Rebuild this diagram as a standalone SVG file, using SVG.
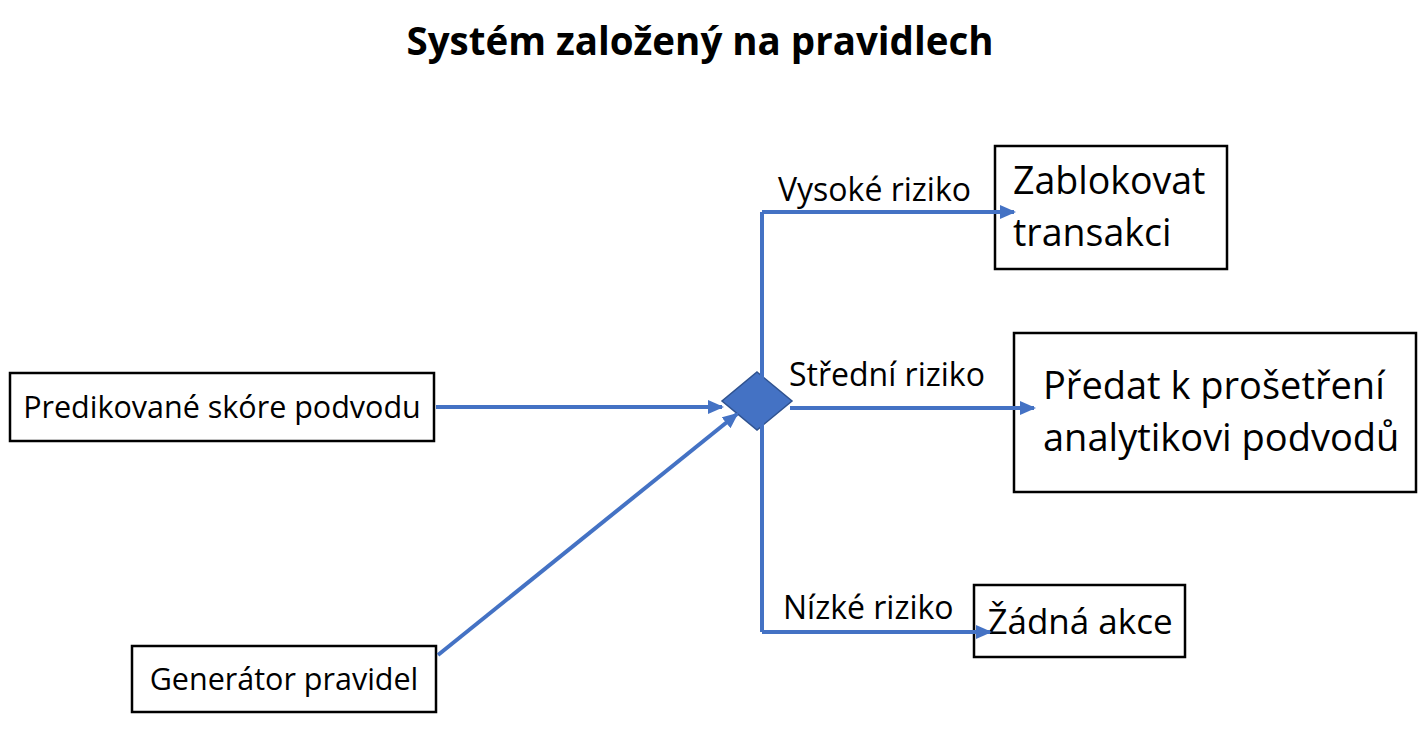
<svg xmlns="http://www.w3.org/2000/svg" width="1428" height="736" viewBox="0 0 1428 736">
<style>
.box{fill:#fff;stroke:#000;stroke-width:2.5}
.t{font-family:"Open Sans","Liberation Sans",sans-serif;fill:#000}
.c{stroke:#4472C4;stroke-width:4;fill:none}
</style>
<defs><marker id="b" markerWidth="16" markerHeight="14" refX="14" refY="7" orient="auto" markerUnits="userSpaceOnUse"><path d="M0,0L16,7L0,14z" fill="#4472C4"/></marker></defs>
<rect width="1428" height="736" fill="#fff"/>
<text class="t" x="700" y="55" text-anchor="middle" font-size="38.5" font-weight="bold">Systém založený na pravidlech</text>
<g id="n1"><rect class="box" x="10" y="373" width="424" height="68"/><text class="t" x="222" y="418" font-size="30.5" text-anchor="middle">Predikované skóre podvodu</text></g>
<g id="n2"><rect class="box" x="132" y="646" width="304" height="66"/><text class="t" x="284" y="690" font-size="30.5" text-anchor="middle">Generátor pravidel</text></g>
<g id="n3"><rect class="box" x="995" y="146" width="232" height="123"/><text class="t" x="1013" y="194" font-size="37.5">Zablokovat</text><text class="t" x="1013" y="246" font-size="37.5">transakci</text></g>
<g id="n4"><rect class="box" x="1014" y="333" width="402" height="159"/><text class="t" x="1043" y="399" font-size="38">Předat k prošetření</text><text class="t" x="1043" y="451" font-size="38">analytikovi podvodů</text></g>
<g id="n5"><rect class="box" x="974" y="585" width="211" height="72"/><text class="t" x="1080" y="634" font-size="35" text-anchor="middle">Žádná akce</text></g>
<g id="diamond"><path d="M757,372L792,401L757,430L722,401z" fill="#4472C4" stroke="#2F528F" stroke-width="1.5"/></g>
<g id="connectors">
<path class="c" d="M436,407H722" marker-end="url(#b)"/>
<path class="c" d="M438,655L737,414" marker-end="url(#b)"/>
<path class="c" d="M762,212V632"/>
<path class="c" d="M762,212H1014" marker-end="url(#b)"/>
<path class="c" d="M790,408H1034" marker-end="url(#b)"/>
<path class="c" d="M762,632H990" marker-end="url(#b)"/>
<text class="t" x="778" y="201" font-size="32">Vysoké riziko</text>
<text class="t" x="789" y="386" font-size="32">Střední riziko</text>
<text class="t" x="783" y="619" font-size="32">Nízké riziko</text>
</g>
</svg>
